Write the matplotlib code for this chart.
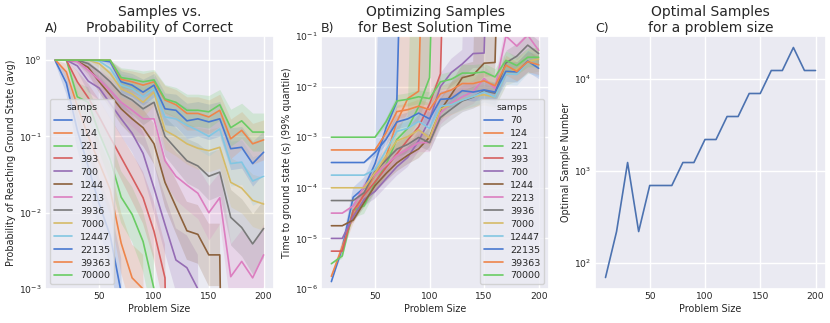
import numpy as np
import matplotlib
matplotlib.use("Agg")
import matplotlib.pyplot as plt
import seaborn as sns

# ---------------- data ----------------
problem_size = [10, 20, 30, 40, 50, 60, 70, 80, 90, 100,
                110, 120, 130, 140, 150, 160, 170, 180, 190, 200]
samps = [70, 124, 221, 393, 700, 1244, 2213, 3936, 7000, 12447, 22135, 39363, 70000]

# Panel A: probability of reaching the ground state (avg)
prob_70 = [0.97, 0.5, 0.12, 0.04, 0.013, 0.005, 0.0009, 0, 0, 0, 0, 0, 0, 0, 0, 0, 0, 0, 0, 0]
prob_124 = [1.0, 0.7, 0.25, 0.1, 0.045, 0.02, 0.004, 0.0014, 0.001, 0, 0, 0, 0, 0, 0, 0, 0, 0, 0, 0]
prob_221 = [1.0, 1.0, 0.33, 0.28, 0.11, 0.05, 0.016, 0.0095, 0.0042, 0.001, 0, 0, 0, 0, 0, 0, 0, 0, 0, 0]
prob_393 = [1.0, 1.0, 0.52, 0.32, 0.18, 0.097, 0.053, 0.029, 0.0157, 0.0057, 0.0014, 0, 0, 0, 0, 0, 0, 0, 0, 0]
prob_700 = [1.0, 1.0, 0.84, 0.53, 0.43, 0.27, 0.17, 0.11, 0.06, 0.021, 0.007, 0.0024, 0.0019, 0.001, 0, 0, 0, 0, 0, 0]
prob_1244 = [1.0, 1.0, 0.97, 0.8, 0.52, 0.35, 0.23, 0.17, 0.13, 0.08, 0.025, 0.012, 0.0058, 0.0052, 0.0028, 0.0028, 0, 0, 0, 0]
prob_2213 = [1.0, 1.0, 0.96, 0.74, 0.55, 0.4, 0.28, 0.22, 0.17, 0.17, 0.048, 0.03, 0.023, 0.018, 0.010, 0.0157, 0.00145, 0.0023, 0.0014, 0.0028]
prob_3936 = [1.0, 1.0, 1.0, 0.9, 0.7, 0.52, 0.36, 0.3, 0.23, 0.28, 0.10, 0.069, 0.048, 0.041, 0.03, 0.034, 0.0087, 0.0064, 0.0039, 0.0062]
prob_7000 = [1.0, 1.0, 1.0, 1.0, 0.9, 0.67, 0.42, 0.36, 0.28, 0.38, 0.12, 0.10, 0.08, 0.07, 0.065, 0.072, 0.025, 0.021, 0.0145, 0.013]
prob_12447 = [1.0, 1.0, 1.0, 1.0, 0.97, 0.78, 0.47, 0.42, 0.33, 0.42, 0.18, 0.17, 0.14, 0.12, 0.10, 0.125, 0.044, 0.046, 0.026, 0.03]
prob_22135 = [1.0, 1.0, 1.0, 1.0, 1.0, 0.95, 0.52, 0.47, 0.38, 0.47, 0.23, 0.22, 0.16, 0.17, 0.155, 0.17, 0.069, 0.072, 0.044, 0.062]
prob_39363 = [1.0, 1.0, 1.0, 1.0, 1.0, 1.0, 0.56, 0.52, 0.47, 0.52, 0.30, 0.26, 0.20, 0.20, 0.18, 0.22, 0.093, 0.12, 0.08, 0.09]
prob_70000 = [1.0, 1.0, 1.0, 1.0, 1.0, 1.0, 0.59, 0.56, 0.52, 0.55, 0.31, 0.28, 0.22, 0.22, 0.21, 0.26, 0.13, 0.16, 0.114, 0.114]

# Panel B: time to ground state, 99% quantile (s); inf = never reached
INF = np.inf
tts_70 = [1.4e-6, 6.5e-6, 6.5e-5, 1.0e-4, 3.0e-4, 1.5e-3, 5.0e-3, INF, INF, INF, INF, INF, INF, INF, INF, INF, INF, INF, INF, INF]
tts_124 = [1.78e-6, 6.8e-6, 2.8e-5, 7.7e-5, 1.8e-4, 4.0e-4, 2.0e-3, 5.8e-3, 8.1e-3, INF, INF, INF, INF, INF, INF, INF, INF, INF, INF, INF]
tts_221 = [3.16e-6, 4.5e-6, 3.6e-5, 4.4e-5, 1.25e-4, 2.8e-4, 9.0e-4, 1.5e-3, 4.0e-3, 1.5e-2, INF, INF, INF, INF, INF, INF, INF, INF, INF, INF]
tts_393 = [5.6e-6, 5.6e-6, 3.5e-5, 7.2e-5, 1.3e-4, 2.5e-4, 4.7e-4, 8.8e-4, 1.6e-3, 4.5e-3, 1.8e-2, INF, INF, INF, INF, INF, INF, INF, INF, INF]
tts_700 = [1.0e-5, 1.0e-5, 2.7e-5, 5.9e-5, 8.5e-5, 1.5e-4, 2.6e-4, 4.0e-4, 8.5e-4, 2.2e-3, 1.0e-2, 1.9e-2, 2.8e-2, 4.5e-2, 4.6e-2, INF, INF, INF, INF, INF]
tts_1244 = [1.78e-5, 1.78e-5, 2.3e-5, 5.1e-5, 1.1e-4, 1.9e-4, 3.1e-4, 4.4e-4, 5.9e-4, 1.0e-3, 3.4e-3, 7.0e-3, 1.5e-2, 1.7e-2, 2.9e-2, 3.0e-2, INF, INF, INF, INF]
tts_2213 = [3.16e-5, 3.16e-5, 4.4e-5, 1.08e-4, 1.8e-4, 2.8e-4, 4.4e-4, 5.8e-4, 7.8e-4, 7.8e-4, 3.0e-3, 4.7e-3, 6.3e-3, 8.0e-3, 1.45e-2, 9.2e-3, 1.0e-1, 6.3e-2, 1.04e-1, 5.2e-2]
tts_3936 = [5.6e-5, 5.6e-5, 5.6e-5, 8.0e-5, 2.1e-4, 3.5e-4, 5.8e-4, 7.2e-4, 9.9e-4, 7.8e-4, 2.45e-3, 3.6e-3, 5.2e-3, 6.2e-3, 8.3e-3, 7.4e-3, 2.95e-2, 4.0e-2, 6.6e-2, 4.5e-2]
tts_7000 = [1.0e-4, 1.0e-4, 1.0e-4, 1.0e-4, 2.0e-4, 4.15e-4, 8.5e-4, 1.03e-3, 1.4e-3, 9.6e-4, 3.6e-3, 4.4e-3, 5.5e-3, 6.4e-3, 6.9e-3, 6.2e-3, 1.8e-2, 2.2e-2, 3.15e-2, 3.5e-2]
tts_12447 = [1.78e-4, 1.78e-4, 1.78e-4, 1.78e-4, 2.3e-4, 5.4e-4, 1.3e-3, 1.5e-3, 2.05e-3, 1.5e-3, 4.1e-3, 4.4e-3, 5.4e-3, 6.4e-3, 7.8e-3, 6.2e-3, 1.8e-2, 1.74e-2, 3.1e-2, 2.65e-2]
tts_22135 = [3.16e-4, 3.16e-4, 3.16e-4, 3.16e-4, 5.0e-4, 9.0e-4, 2.0e-3, 2.3e-3, 3.0e-3, 2.3e-3, 5.6e-3, 5.8e-3, 8.3e-3, 7.8e-3, 8.6e-3, 7.8e-3, 2.0e-2, 1.95e-2, 3.2e-2, 2.3e-2]
tts_39363 = [5.6e-4, 5.6e-4, 5.6e-4, 5.6e-4, 5.6e-4, 1.2e-3, 3.2e-3, 3.5e-3, 4.1e-3, 3.5e-3, 7.2e-3, 8.6e-3, 1.15e-2, 1.15e-2, 1.3e-2, 1.04e-2, 2.65e-2, 2.0e-2, 3.1e-2, 2.7e-2]
tts_70000 = [1.0e-3, 1.0e-3, 1.0e-3, 1.0e-3, 1.0e-3, 2.0e-3, 5.2e-3, 5.6e-3, 6.3e-3, 5.8e-3, 1.24e-2, 1.4e-2, 1.85e-2, 1.85e-2, 1.95e-2, 1.55e-2, 3.3e-2, 2.6e-2, 3.8e-2, 3.8e-2]

# Panel C: optimal number of samples for each problem size
optimal_samples = [70, 221, 1244, 221, 700, 700, 700, 1244, 1244, 2213,
                   2213, 3936, 3936, 7000, 7000, 12447, 12447, 22135, 12447, 12447]

prob_series = [prob_70, prob_124, prob_221, prob_393, prob_700, prob_1244, prob_2213,
               prob_3936, prob_7000, prob_12447, prob_22135, prob_39363, prob_70000]
tts_series = [tts_70, tts_124, tts_221, tts_393, tts_700, tts_1244, tts_2213,
              tts_3936, tts_7000, tts_12447, tts_22135, tts_39363, tts_70000]

# ---------------- style ----------------
sns.set_theme(style="darkgrid")
plt.rcParams["font.family"] = ["DejaVu Sans"]
pal = sns.color_palette("muted", 10)
colors = [pal[i % 10] for i in range(len(samps))]

TICK = 6.6
LAB = 6.9
TIT = 10
PANEL = 9
LEG = 6.8
LW = 1.2

fig = plt.figure(figsize=(8.3, 3.23), dpi=100)
W, H = 830.0, 323.0
bottom = (H - 289) / H
height = (289 - 36) / H
axA = fig.add_axes([45 / W, bottom, 229 / W, height])
axB = fig.add_axes([321 / W, bottom, 228 / W, height])
axC = fig.add_axes([595 / W, bottom, 231 / W, height])

x = np.array(problem_size, float)
TINY = 1e-12
BIG = 1e6


def prob_band(p):
    p = np.asarray(p, float)
    lo = np.full_like(p, TINY)
    hi = np.full_like(p, TINY)
    pos = p > 0
    w = 0.18 * np.sqrt(1 - p[pos]) * (1 + 0.5 * (-np.log10(p[pos])))
    lo[pos] = p[pos] * 10 ** (-w)
    hi[pos] = np.minimum(p[pos] * 10 ** w, 1.0)
    return lo, hi


def tts_band(t):
    t = np.asarray(t, float)
    fin = np.isfinite(t)
    base = t[0]
    tt = np.where(fin, t, BIG)
    ratio = np.maximum(tt / base, 1.0)
    w = 0.15 * np.sqrt(np.log10(ratio))
    lo = tt * 10 ** (-w)
    hi = tt * 10 ** w
    if not fin.all():
        last = np.where(fin)[0][-1]
        hi[max(last - 1, 0):last + 1] = BIG
    return tt, lo, hi


# ---------------- panel A ----------------
for s, p, c in zip(samps, prob_series, colors):
    pa = np.asarray(p, float)
    lo, hi = prob_band(pa)
    axA.fill_between(x, lo, hi, color=c, alpha=0.2, linewidth=0)
    axA.plot(x, np.where(pa > 0, pa, TINY), color=c, lw=LW, label=str(s))
axA.set_yscale("log")
axA.set_ylim(1e-3, 2.07)
axA.set_xlim(0.5, 209.5)
axA.set_xlabel("Problem Size", fontsize=LAB, labelpad=1.5)
axA.set_ylabel("Probability of Reaching Ground State (avg)", fontsize=LAB, labelpad=2)
axA.set_title("Samples vs.\nProbability of Correct", fontsize=TIT, pad=3)
axA.set_title("A)", loc="left", fontsize=PANEL, pad=3)
axA.legend(title="samps", loc="lower left", fontsize=LEG, title_fontsize=LEG,
           labelspacing=0.42, handlelength=2.0, borderpad=0.4)

# ---------------- panel B ----------------
for s, t, c in zip(samps, tts_series, colors):
    tt, lo, hi = tts_band(t)
    axB.fill_between(x, lo, hi, color=c, alpha=0.2, linewidth=0)
    axB.plot(x, tt, color=c, lw=LW, label=str(s))
axB.set_yscale("log")
axB.set_ylim(1e-6, 1e-1)
axB.set_xlim(0.5, 209.5)
axB.set_xlabel("Problem Size", fontsize=LAB, labelpad=1.5)
axB.set_ylabel("Time to ground state (s) (99% quantile)", fontsize=LAB, labelpad=2)
axB.set_title("Optimizing Samples\nfor Best Solution Time", fontsize=TIT, pad=3)
axB.set_title("B)", loc="left", fontsize=PANEL, pad=3)
axB.legend(title="samps", loc="lower right", fontsize=LEG, title_fontsize=LEG,
           labelspacing=0.42, handlelength=2.0, borderpad=0.4)

# ---------------- panel C ----------------
axC.plot(x, optimal_samples, color=sns.color_palette("deep")[0], lw=LW)
axC.set_yscale("log")
axC.set_xlabel("Problem Size", fontsize=LAB, labelpad=1.5)
axC.set_ylabel("Optimal Sample Number", fontsize=LAB, labelpad=2)
axC.set_title("Optimal Samples\nfor a problem size", fontsize=TIT, pad=3)
axC.set_title("C)", loc="left", fontsize=PANEL, pad=3)

for ax in (axA, axB, axC):
    ax.tick_params(axis="both", labelsize=TICK, pad=2.5, length=0, which="both")
    ax.minorticks_off()
    ax.set_xticks([50, 100, 150, 200])

fig.savefig("out.png", dpi=100)
